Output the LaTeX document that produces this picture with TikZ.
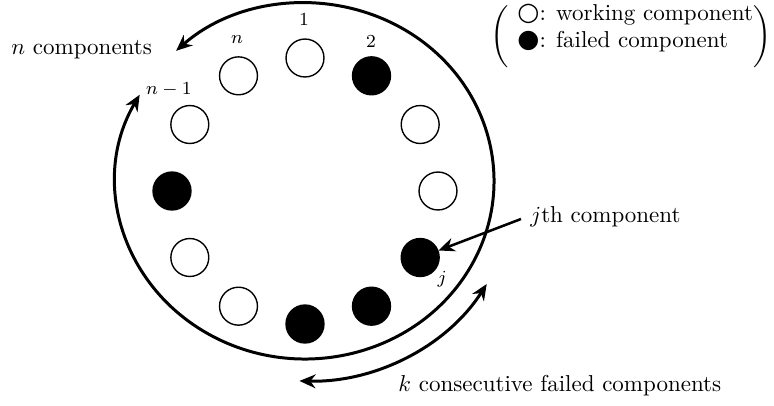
\documentclass[tikz,border=0pt]{standalone}
\usepackage{fontspec}
\newfontfamily\symfont{DejaVu Sans}
\usetikzlibrary{arrows.meta}
\begin{document}
\begin{tikzpicture}[x=0.4348pt,y=0.4348pt,
  comp/.style={circle,draw=black,line width=0.6pt,minimum size=16.5pt,inner sep=0pt},
  ok/.style={comp,fill=white},
  bad/.style={comp,fill=black},
  bigarrow/.style={line width=1.3pt,{Stealth[length=7pt,width=6pt]}-{Stealth[length=7pt,width=6pt]}},
  ptr/.style={line width=1.1pt,-{Stealth[length=7pt,width=6pt]}},
  lbl/.style={font=\footnotesize,inner sep=0pt},
  txt/.style={anchor=base west,inner sep=0pt},
  par/.style={inner sep=0pt,anchor=north}]
\useasboundingbox (0,0) rectangle (774,-406);
\coordinate (c) at (305,-191);
\coordinate (e) at (305,-181);
% components
\node[ok]  (c1)  at ([shift={(90:133)}]c) {};
\node[bad] (c2)  at ([shift={(60:133)}]c) {};
\node[ok]  (c3)  at ([shift={(30:133)}]c) {};
\node[ok]  (c4)  at ([shift={(0:133)}]c) {};
\node[bad] (cj)  at ([shift={(-30:133)}]c) {};
\node[bad] (c6)  at ([shift={(-60:133)}]c) {};
\node[bad] (c7)  at ([shift={(-90:133)}]c) {};
\node[ok]  (c8)  at ([shift={(-120:133)}]c) {};
\node[ok]  (c9)  at ([shift={(-150:133)}]c) {};
\node[bad] (c10) at ([shift={(180:133)}]c) {};
\node[ok]  (cn1) at ([shift={(150:133)}]c) {};
\node[ok]  (cn)  at ([shift={(120:133)}]c) {};
% labels
\node[lbl] (l1)  at (304,-19.5) {1};
\node[lbl] (l2)  at (371,-41.5) {2};
\node[lbl] (ln)  at (237,-40) {$n$};
\node[lbl] (ln1) at (169,-90) {$n-1$};
\node[lbl] (lj)  at (442,-279) {$j$};
% big ring arrow
\coordinate (a1) at ([shift={(151:189 and 178)}]e);
\draw[bigarrow] (a1) arc[start angle=151,end angle=493,x radius=189,y radius=178];
% k consecutive arrow
\coordinate (k1) at ([shift={(-91.5:212 and 200)}]e);
\draw[bigarrow] (k1) arc[start angle=-91.5,end angle=-31,x radius=212,y radius=200];
% texts
\node[txt] (ncomp) at (11,-54) {$n$ components};
\node[txt] (jlab) at (530,-222) {$j$th component};
\node[txt] (klab) at (398,-391) {$k$ consecutive failed components};
\coordinate (js) at (521,-219);
\draw[ptr] (js) -- (cj);
% legend
\node[txt] (leg1) at (517,-20) {{\symfont\fontsize{11}{11}\selectfont ○}: working component};
\node[txt] (leg2) at (517,-47) {{\symfont\fontsize{11}{11}\selectfont ●}: failed component};
\node[par] (lpar) at (500,-5) {\scalebox{1}[0.9]{$\Bigg($}};
\node[par] (rpar) at (763,-5) {\scalebox{1}[0.9]{$\Bigg)$}};
\end{tikzpicture}
\end{document}
